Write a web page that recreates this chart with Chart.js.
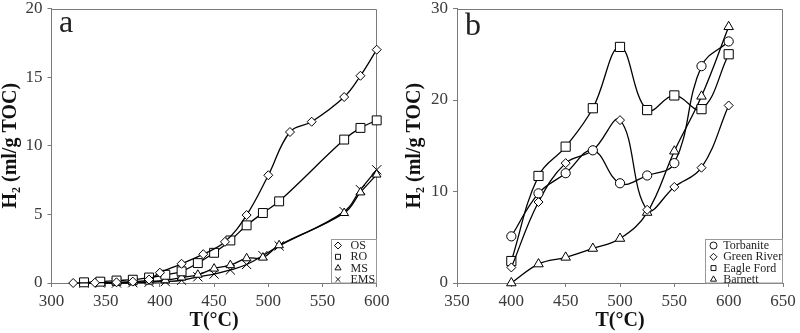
<!DOCTYPE html>
<html>
<head>
<meta charset="utf-8">
<script src="https://cdn.jsdelivr.net/npm/chart.js@4.4.1/dist/chart.umd.min.js"></script>
<style>
  html, body { margin: 0; padding: 0; background: #fff; }
  #wrap { position: relative; width: 800px; height: 333px; }
  .panel { position: absolute; top: 0; width: 400px; height: 333px; }
</style>
</head>
<body>
<div id="wrap">
  <div class="panel" style="left:0"><canvas id="chartA" width="400" height="333"></canvas></div>
  <div class="panel" style="left:400px"><canvas id="chartB" width="400" height="333"></canvas></div>
</div>
<script>
// --- panel a : H2 yield vs temperature
const tempOS  = [320, 340, 360, 375, 390, 400, 420, 440, 460, 480, 500, 520, 540, 570, 585, 600];
const valsOS  = [0, 0.02, 0.05, 0.1, 0.25, 0.75, 1.4, 2.1, 3.0, 4.95, 7.85, 11.0, 11.75, 13.55, 15.1, 17.0];
const tempRO  = [330, 345, 360, 375, 390, 405, 420, 435, 450, 465, 480, 495, 510, 570, 585, 600];
const valsRO  = [0.05, 0.1, 0.18, 0.24, 0.4, 0.6, 0.85, 1.45, 2.2, 3.1, 4.2, 5.1, 5.95, 10.45, 11.3, 11.85];
const tempMS  = [330, 345, 360, 375, 390, 405, 420, 435, 450, 465, 480, 495, 510, 570, 585, 600];
const valsMS  = [0, 0, 0.02, 0.05, 0.1, 0.2, 0.4, 0.6, 1.05, 1.3, 1.8, 1.85, 2.75, 5.1, 6.6, 7.9];
const tempEMS = [330, 345, 360, 375, 390, 405, 420, 435, 450, 465, 480, 495, 510, 570, 585, 600];
const valsEMS = [0, 0, 0, 0.02, 0.05, 0.1, 0.2, 0.45, 0.65, 0.95, 1.35, 2.0, 2.7, 5.2, 6.8, 8.25];
const labelsA = ['OS', 'RO', 'MS', 'EMS'];

// --- panel b
const tempB          = [400, 425, 450, 475, 500, 525, 550, 575, 600];
const valsTorbanite  = [5.1, 9.8, 12.0, 14.5, 10.9, 11.75, 13.1, 23.7, 26.4];
const valsGreenRiver = [1.7, 8.85, 13.1, 14.5, 17.8, 8.0, 10.5, 12.6, 19.4];
const valsEagleFord  = [2.4, 11.7, 14.9, 19.1, 25.8, 18.9, 20.5, 19.0, 25.0];
const valsBarnett    = [0, 2.07, 2.8, 3.77, 4.86, 7.7, 14.4, 20.4, 28.0];
const labelsB = ['Torbanite', 'Green River', 'Eagle Ford', 'Barnett'];

const ticksA_x = [300, 600, 50], ticksA_y = [0, 20, 5];
const ticksB_x = [350, 650, 50], ticksB_y = [0, 30, 10];

Chart.defaults.font.family = "'Liberation Serif', 'Times New Roman', serif";
const AXIS_GRAY = '#7a7a7a';

function pts(xs, ys) {
  return xs.map((x, i) => ({ x: x, y: ys[i] }));
}

function series(label, data, style, radius) {
  return {
    label: label,
    data: data,
    borderColor: '#000',
    borderWidth: 1.3,
    pointStyle: style,
    pointRadius: radius,
    pointHoverRadius: radius,
    pointBorderWidth: 1,
    pointBorderColor: '#000',
    pointBackgroundColor: '#fff',
    tension: 0.4,
    fill: false,
    clip: false
  };
}

// frame (top/right), panel letter and the boxed legend
const panelDecor = {
  id: 'panelDecor',
  beforeDatasetsDraw(chart, args, o) {
    const a = chart.chartArea, ctx = chart.ctx;
    ctx.save();
    ctx.strokeStyle = AXIS_GRAY;
    ctx.lineWidth = 1;
    ctx.beginPath();
    const t = Math.round(a.top) + 0.5, r = Math.round(a.right) - 0.5;
    ctx.moveTo(a.left, t);
    ctx.lineTo(r, t);
    ctx.lineTo(r, a.bottom);
    ctx.stroke();
    ctx.fillStyle = '#222';
    ctx.font = "32px 'Liberation Serif', serif";
    ctx.textBaseline = 'alphabetic';
    ctx.fillText(o.letter, a.left + o.letterDx, a.top + o.letterDy);
    ctx.restore();
  },
  afterDatasetsDraw(chart, args, o) {
    const a = chart.chartArea, ctx = chart.ctx;
    const L = Math.round(a.right - o.boxW) + 0.5, T = Math.round(a.bottom - o.boxH) + 0.5;
    ctx.save();
    ctx.fillStyle = '#fff';
    ctx.fillRect(L, T, a.right - L, a.bottom - T);
    ctx.strokeStyle = '#999';
    ctx.lineWidth = 1;
    ctx.strokeRect(L, T, Math.round(a.right) - 0.5 - L, a.bottom - T);
    ctx.font = "12px 'Liberation Serif', serif";
    ctx.textBaseline = 'middle';
    chart.data.datasets.forEach((ds, i) => {
      const cy = T + 6 + i * 11.3;
      ctx.fillStyle = '#fff';
      ctx.strokeStyle = '#111';
      Chart.helpers.drawPoint(ctx, { pointStyle: ds.pointStyle, radius: o.markR, rotation: 0, borderWidth: 1 }, L + o.markDx, cy);
      ctx.fillStyle = '#222';
      ctx.fillText(ds.label, L + o.textDx, cy + 0.5);
    });
    ctx.restore();
  }
};

function makePanel(id, datasets, xt, yt, p) {
  return new Chart(document.getElementById(id), {
    type: 'line',
    data: { datasets: datasets },
    plugins: [panelDecor],
    options: {
      responsive: false,
      animation: false,
      events: [],
      layout: { padding: { left: 0, right: p.padRight, top: 8.5, bottom: 0 } },
      plugins: {
        legend: { display: false },
        tooltip: { enabled: false },
        panelDecor: p.decor
      },
      scales: {
        x: {
          type: 'linear', min: xt[0], max: xt[1],
          ticks: { stepSize: xt[2], color: '#3a3a3a', font: { size: 17 }, padding: 4, maxRotation: 0, autoSkip: false },
          grid: { drawOnChartArea: false, drawTicks: true, tickLength: 4, color: AXIS_GRAY },
          border: { color: AXIS_GRAY, width: 1 },
          title: { display: true, text: 'T(°C)', color: '#111', font: { size: 20, weight: 'bold', lineHeight: 1.2 }, padding: 0 },
          afterFit(s) { s.height = 50; s.paddingLeft = 0; s.paddingRight = 0; }
        },
        y: {
          type: 'linear', min: yt[0], max: yt[1],
          ticks: { stepSize: yt[2], color: '#3a3a3a', font: { size: 17 }, padding: 5 },
          grid: { drawOnChartArea: false, drawTicks: true, tickLength: 4, color: AXIS_GRAY },
          border: { color: AXIS_GRAY, width: 1 },
          title: { display: true, text: 'H₂ (ml/g TOC)', color: '#111', font: { size: 20, weight: 'bold', lineHeight: 1 }, padding: { top: p.titlePad, bottom: 0 } },
          afterFit(s) { s.width = p.yWidth; s.paddingTop = 0; s.paddingBottom = 0; }
        }
      }
    }
  });
}

makePanel('chartA', [
  series(labelsA[0], pts(tempOS, valsOS), 'rectRot', 4.5),
  series(labelsA[1], pts(tempRO, valsRO), 'rect', 6.3),
  series(labelsA[2], pts(tempMS, valsMS), 'triangle', 5),
  series(labelsA[3], pts(tempEMS, valsEMS), 'crossRot', 6.5)
], ticksA_x, ticksA_y, {
  padRight: 23.3, yWidth: 51.5, titlePad: 1,
  decor: { letter: 'a', letterDx: 7.5, letterDy: 23.5, boxW: 46, boxH: 44, markDx: 6.5, textDx: 19, markR: 3.5 }
});

makePanel('chartB', [
  series(labelsB[0], pts(tempB, valsTorbanite), 'circle', 4.6),
  series(labelsB[1], pts(tempB, valsGreenRiver), 'rectRot', 4.5),
  series(labelsB[2], pts(tempB, valsEagleFord), 'rect', 6.5),
  series(labelsB[3], pts(tempB, valsBarnett), 'triangle', 5.5)
], ticksB_x, ticksB_y, {
  padRight: 17, yWidth: 57, titlePad: 5,
  decor: { letter: 'b', letterDx: 8, letterDy: 26.5, boxW: 78, boxH: 44, markDx: 8, textDx: 17.7, markR: 3.5 }
});
</script>
</body>
</html>
